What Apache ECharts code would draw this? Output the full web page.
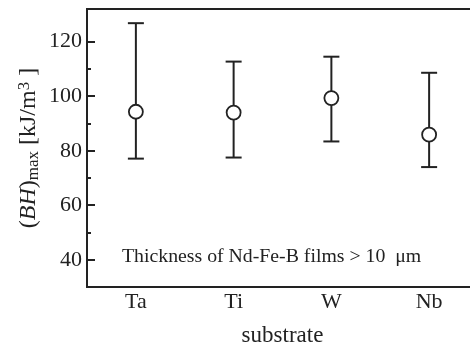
<!DOCTYPE html>
<html>
<head>
<meta charset="utf-8">
<script src="https://cdn.jsdelivr.net/npm/echarts@6/dist/echarts.min.js"></script>
<style>
  html, body { margin: 0; padding: 0; background: #fff; overflow: hidden; }
  /* the frame runs past the right edge of the picture, so the div is a bit wider */
  #chart { width: 480px; height: 345px; }
</style>
</head>
<body>
<div id="chart"></div>
<script>
// values
const substrates = ["Ta", "Ti", "W", "Nb"];
const bhMean = [94.3, 94.0, 99.3, 85.9];
const bhLow = [77.1, 77.5, 83.4, 74.0];
const bhHigh = [126.8, 112.7, 114.5, 108.6];
const majorTicks = [40, 60, 80, 100, 120];
const minorTicks = [50, 70, 90, 110];

const ink = "#222";
const serif = "Liberation Serif";

const chart = echarts.init(document.getElementById("chart"));

const errData = substrates.map((s, i) => [i, bhLow[i], bhHigh[i]]);

const yBase = {
  type: "value",
  min: 30,
  max: 132,
  splitLine: { show: false },
  axisLine: { show: true, lineStyle: { color: ink, width: 2 } },
};

const option = {
  animation: false,
  grid: { left: 87, top: 9, right: 2, bottom: 58, containLabel: false, outerBoundsMode: "none" },
  xAxis: [
    {
      type: "category",
      data: substrates,
      position: "bottom",
      boundaryGap: true,
      name: "substrate",
      nameLocation: "middle",
      nameGap: 37,
      nameTextStyle: { fontFamily: serif, fontSize: 23, color: ink },
      axisLine: { lineStyle: { color: ink, width: 2 } },
      axisTick: { inside: true, length: 8, alignWithLabel: true, lineStyle: { color: ink, width: 2 } },
      axisLabel: { margin: 4, fontFamily: serif, fontSize: 22, color: ink },
    },
    {
      type: "category",
      data: substrates,
      position: "top",
      boundaryGap: true,
      axisLine: { lineStyle: { color: ink, width: 2 } },
      axisTick: { inside: true, length: 8, alignWithLabel: true, lineStyle: { color: ink, width: 2 } },
      axisLabel: { show: false },
    },
  ],
  yAxis: [
    Object.assign({}, yBase, {
      position: "left",
      name: "{p|(}{i|BH}{p|)}{sub|max}{p| [kJ/m}{sup|3}{p| ]}",
      nameLocation: "middle",
      nameRotate: 90,
      nameGap: 45,
      nameMoveOverlap: false,
      nameTextStyle: {
        color: ink,
        rich: {
          p: { fontFamily: serif, fontSize: 24, color: ink },
          i: { fontFamily: serif, fontSize: 24, fontStyle: "italic", color: ink },
          sub: { fontFamily: serif, fontSize: 17, color: ink, verticalAlign: "bottom", padding: [9, 0, 0, 0] },
          sup: { fontFamily: serif, fontSize: 17, color: ink, verticalAlign: "top", padding: [0, 0, 9, 0] },
        },
      },
      axisTick: { show: true, inside: true, length: 8, customValues: majorTicks, lineStyle: { color: ink, width: 2 } },
      axisLabel: { margin: 5, customValues: majorTicks, fontFamily: serif, fontSize: 22, color: ink },
    }),
    Object.assign({}, yBase, {
      position: "left",
      axisTick: { show: true, inside: true, length: 4, customValues: minorTicks, lineStyle: { color: ink, width: 2 } },
      axisLabel: { show: false },
    }),
    Object.assign({}, yBase, {
      position: "right",
      axisTick: { show: true, inside: true, length: 8, customValues: majorTicks, lineStyle: { color: ink, width: 2 } },
      axisLabel: { show: false },
    }),
  ],
  graphic: [
    {
      type: "text",
      x: 122,
      y: 257,
      style: {
        text: "Thickness of Nd-Fe-B films > 10  μm",
        font: '19.8px "Liberation Serif"',
        fill: ink,
        textVerticalAlign: "middle",
      },
    },
  ],
  series: [
    {
      type: "custom",
      xAxisIndex: 0,
      yAxisIndex: 0,
      data: errData,
      z: 2,
      renderItem: function (params, api) {
        const lo = api.coord([api.value(0), api.value(1)]);
        const hi = api.coord([api.value(0), api.value(2)]);
        const hw = 8;
        const st = { stroke: ink, lineWidth: 2 };
        return {
          type: "group",
          children: [
            { type: "line", shape: { x1: lo[0], y1: lo[1], x2: hi[0], y2: hi[1] }, style: st },
            { type: "line", shape: { x1: hi[0] - hw, y1: hi[1], x2: hi[0] + hw, y2: hi[1] }, style: st },
            { type: "line", shape: { x1: lo[0] - hw, y1: lo[1], x2: lo[0] + hw, y2: lo[1] }, style: st },
          ],
        };
      },
    },
    {
      type: "scatter",
      xAxisIndex: 0,
      yAxisIndex: 0,
      data: bhMean,
      symbol: "circle",
      symbolSize: 14,
      z: 3,
      itemStyle: { color: "#fff", borderColor: ink, borderWidth: 1.8, opacity: 1 },
    },
  ],
};

chart.setOption(option);
</script>
</body>
</html>
